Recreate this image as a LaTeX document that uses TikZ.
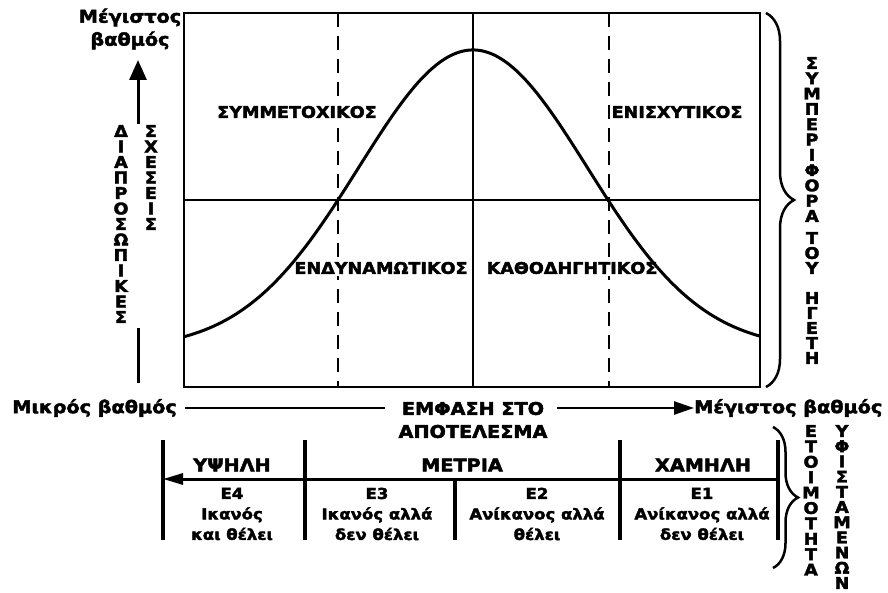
\documentclass[tikz,border=0pt]{standalone}
\usepackage{fontspec}
\setmainfont[FakeStretch=1.1, BoldFeatures={FakeBold=2.5}]{DejaVu Sans}
\usetikzlibrary{arrows.meta,decorations.pathreplacing}

\tikzset{
  bigtxt/.style={font=\bfseries\fontsize{17.5}{23}\selectfont, align=center, inner sep=1pt},
  smalltxt/.style={font=\bfseries\fontsize{15}{20.5}\selectfont, align=center, inner sep=1pt},
  quadlab/.style={font=\bfseries\fontsize{16}{18}\selectfont, fill=white, inner sep=2pt},
  stack/.style={font=\bfseries\fontsize{16}{#1}\selectfont, align=center, inner sep=0pt, anchor=north},
  stack/.default=15.5,
  bell/.style={line width=3pt},
  tabline/.style={line width=3.5pt},
  brc/.style={line width=2.5pt, decorate, decoration={brace, amplitude=#1}},
}

\begin{document}
\begin{tikzpicture}[x=1pt,y=-1pt]
\useasboundingbox (0,0) rectangle (888,593);
%BOX AND QUADRANTS
\draw[line width=2pt] (184,13) rectangle (760,387);
\draw[line width=1.3pt] (184,200) -- (760,200);
\draw[line width=2pt] (473,13) -- (473,387);
\draw[line width=2pt, dash pattern=on 14pt off 9pt] (338,13) -- (338,387);
\draw[line width=2pt, dash pattern=on 14pt off 9pt] (609,13) -- (609,387);
\node[quadlab] (sym) at (297,112) {ΣΥΜΜΕΤΟΧΙΚΟΣ};
\node[quadlab] (enis) at (677,112) {ΕΝΙΣΧΥΤΙΚΟΣ};
\node[quadlab] (endy) at (381,268) {ΕΝΔΥΝΑΜΩΤΙΚΟΣ};
\node[quadlab] (kath) at (572,268) {ΚΑΘΟΔΗΓΗΤΙΚΟΣ};
%CURVE
\draw[bell] plot[domain=-2.89:2.87, samples=120, smooth]
  ({473+100*\x},{349-299*exp(-((\x)*(\x))/2.6166)});
%LEFT AXIS
\node[bigtxt] (ymax) at (130,29) {Μέγιστος\\βαθμός};
\node[stack] (diap) at (121,125) {Δ\\Ι\\Α\\Π\\Ρ\\Ο\\Σ\\Ω\\Π\\Ι\\Κ\\Ε\\Σ};
\node[stack] (sxes) at (151,125) {Σ\\Χ\\Ε\\Σ\\Ε\\Ι\\Σ};
\coordinate (ytip) at (138,60);
\coordinate (ytop) at (138,124);
\coordinate (ybot) at (138,328);
\coordinate (yend) at (138,383);
\draw[line width=3pt, -{Triangle[length=20pt,width=17pt]}] (ytop) -- (ytip);
\draw[line width=3pt] (ybot) -- (yend);
%RIGHT BRACE
\draw[brc=28pt] (766,13) -- (766,387);
\node[stack=15.3] (symp) at (812,57) {Σ\\Υ\\Μ\\Π\\Ε\\Ρ\\Ι\\Φ\\Ο\\Ρ\\Α};
\node[stack=15] (tou) at (812,232) {Τ\\Ο\\Υ};
\node[stack=15] (hget) at (812,292) {Η\\Γ\\Ε\\Τ\\Η};
%BOTTOM AXIS
\node[bigtxt, anchor=east] (xmin) at (178,408) {Μικρός βαθμός};
\node[bigtxt] (emph) at (473,420) {ΕΜΦΑΣΗ ΣΤΟ\\ΑΠΟΤΕΛΕΣΜΑ};
\node[bigtxt, anchor=west] (xmax) at (693,408) {Μέγιστος βαθμός};
\coordinate (xa) at (185,408);
\coordinate (xb) at (385,408);
\coordinate (xc) at (557,408);
\coordinate (xd) at (694,408);
\draw[line width=2.5pt] (xa) -- (xb);
\draw[line width=2.5pt, -{Triangle[length=20pt,width=13pt]}] (xc) -- (xd);
%READINESS TABLE
\draw[tabline] (163,440) -- (163,540);
\draw[tabline] (305,440) -- (305,540);
\draw[tabline] (620,440) -- (620,540);
\draw[tabline] (778,440) -- (778,540);
\draw[tabline] (455,480) -- (455,540);
\coordinate (rstart) at (778,479);
\coordinate (rend) at (163,479);
\draw[line width=3pt, -{Triangle[length=20pt,width=11pt]}] (rstart) -- (rend);
\node[bigtxt] (high) at (232,465) {ΥΨΗΛΗ};
\node[bigtxt] (mid) at (462,465) {ΜΕΤΡΙΑ};
\node[bigtxt] (low) at (703,465) {ΧΑΜΗΛΗ};
\node[smalltxt] (efour) at (232,514) {Ε4\\Ικανός\\και θέλει};
\node[smalltxt] (ethree) at (377,514) {Ε3\\Ικανός αλλά\\δεν θέλει};
\node[smalltxt] (etwo) at (537,514) {Ε2\\Ανίκανος αλλά\\θέλει};
\node[smalltxt] (eone) at (702,514) {Ε1\\Ανίκανος αλλά\\δεν θέλει};
%BOTTOM BRACE
\draw[brc=25pt] (773,427) -- (773,568);
\node[stack=15.4] (etoi) at (811,425) {Ε\\Τ\\Ο\\Ι\\Μ\\Ο\\Τ\\Η\\Τ\\Α};
\node[stack=15.2] (yfis) at (842,425) {Υ\\Φ\\Ι\\Σ\\Τ\\Α\\Μ\\Ε\\Ν\\Ω\\Ν};
\end{tikzpicture}
\end{document}
